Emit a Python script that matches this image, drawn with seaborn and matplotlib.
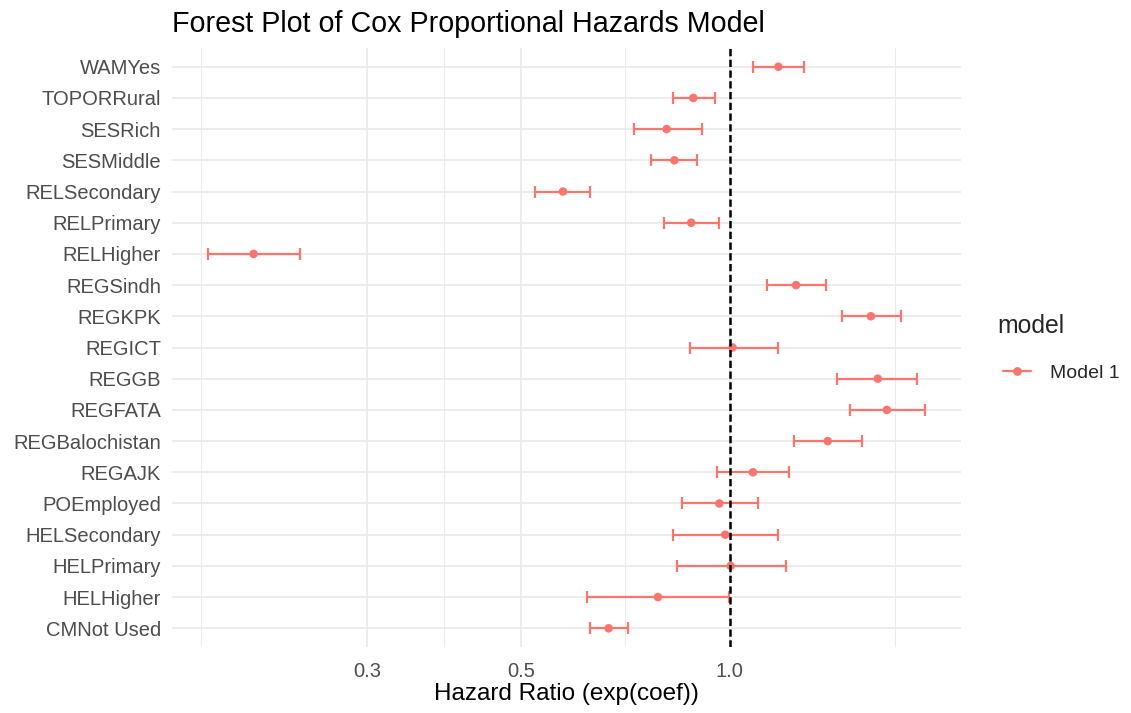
import numpy as np
import pandas as pd
import matplotlib
matplotlib.use("Agg")
import matplotlib.pyplot as plt
import seaborn as sns
from matplotlib.ticker import FixedLocator, NullFormatter
from matplotlib.lines import Line2D

# ---- data (top to bottom as displayed) ----
terms = ["WAMYes", "TOPORRural", "SESRich", "SESMiddle", "RELSecondary",
         "RELPrimary", "RELHigher", "REGSindh", "REGKPK", "REGICT", "REGGB",
         "REGFATA", "REGBalochistan", "REGAJK", "POEmployed", "HELSecondary",
         "HELPrimary", "HELHigher", "CMNot Used"]
hazard_ratio = [1.175, 0.886, 0.811, 0.832, 0.575, 0.880, 0.206, 1.246, 1.597,
                1.009, 1.634, 1.684, 1.384, 1.080, 0.966, 0.985, 1.003, 0.788,
                0.669]
ci_low = [1.079, 0.829, 0.727, 0.770, 0.524, 0.805, 0.177, 1.132, 1.452, 0.875,
          1.429, 1.491, 1.238, 0.959, 0.853, 0.828, 0.839, 0.622, 0.628]
ci_high = [1.281, 0.952, 0.911, 0.897, 0.629, 0.964, 0.240, 1.374, 1.762, 1.173,
           1.862, 1.912, 1.553, 1.216, 1.097, 1.173, 1.204, 0.999, 0.714]
model_name = "Model 1"
x_breaks = [0.1, 0.3, 0.5, 1.0, 3.0]
x_break_labels = ["0.1", "0.3", "0.5", "1.0", "3.0"]

color = "#F8766D"

n = len(terms)
df = pd.DataFrame({
    "term": terms,
    "hr": hazard_ratio,
    "lo": ci_low,
    "hi": ci_high,
    "model": model_name,
})
df["pos"] = np.arange(n)[::-1]

sns.set_theme(style="white")
plt.rcParams["font.family"] = ["Liberation Sans", "DejaVu Sans"]

W, H = 1131, 713
fig = plt.figure(figsize=(W / 100, H / 100), dpi=100)
ax = fig.add_axes([172 / W, 1 - 647 / H, (961 - 172) / W, (647 - 48) / H])

# error bars
ax.errorbar(df["hr"], df["pos"],
            xerr=[df["hr"] - df["lo"], df["hi"] - df["hr"]],
            fmt="none", ecolor=color, elinewidth=1.6, capsize=4.2,
            capthick=1.6, zorder=2)
# points
sns.scatterplot(data=df, x="hr", y="pos", hue="model", palette=[color],
                s=38, edgecolor="none", linewidth=0, legend=False, ax=ax,
                zorder=3)
# reference line
ax.axvline(1.0, color="black", lw=1.8, ls=(0, (2.9, 1.4)), zorder=4)

ax.set_xscale("log")
lmin = np.log10(min(ci_low))
lmax = np.log10(max(ci_high))
pad = 0.05 * (lmax - lmin)
ax.set_xlim(10 ** (lmin - pad), 10 ** (lmax + pad))
ax.set_ylim(-0.6, n - 0.4)

ax.xaxis.set_major_locator(FixedLocator(x_breaks))
ax.set_xticklabels(x_break_labels)
minor = [np.sqrt(a * b) for a, b in zip(x_breaks[:-1], x_breaks[1:])]
ax.xaxis.set_minor_locator(FixedLocator(minor))
ax.xaxis.set_minor_formatter(NullFormatter())

ax.set_yticks(df["pos"])
ax.set_yticklabels(df["term"])

ax.grid(which="major", axis="both", color="#EBEBEB", lw=1.3)
ax.grid(which="minor", axis="x", color="#EBEBEB", lw=0.7)
ax.set_axisbelow(True)
for s in ax.spines.values():
    s.set_visible(False)
ax.tick_params(axis="both", which="both", length=0)
ax.tick_params(axis="y", pad=8, labelsize=14.5, labelcolor="#4D4D4D")
ax.tick_params(axis="x", pad=10.8, labelsize=14.5, labelcolor="#4D4D4D")

ax.set_ylabel("")
ax.set_xlabel("Hazard Ratio (exp(coef))", fontsize=17.5, color="black")
ax.xaxis.set_label_coords(0.5, -0.060)
ax.xaxis.label.set_va("top")

fig.text(172 / W, 1 - 31.5 / H, "Forest Plot of Cox Proportional Hazards Model",
         fontsize=20.6, color="black", ha="left", va="baseline")

handle = Line2D([], [], color=color, lw=1.6, marker="o", markersize=6.3,
                markeredgewidth=0)
leg = fig.legend([handle], [model_name], title="model",
                 loc="upper left", bbox_to_anchor=(997 / W, 1 - 314.5 / H),
                 frameon=False, borderpad=0, borderaxespad=0,
                 handlelength=1.45, handletextpad=0.95, labelspacing=1.0,
                 fontsize=14, title_fontsize=17.8)
leg._legend_box.align = "left"
leg._legend_handle_box.pad = 4.3

fig.savefig("out.png", dpi=100)
